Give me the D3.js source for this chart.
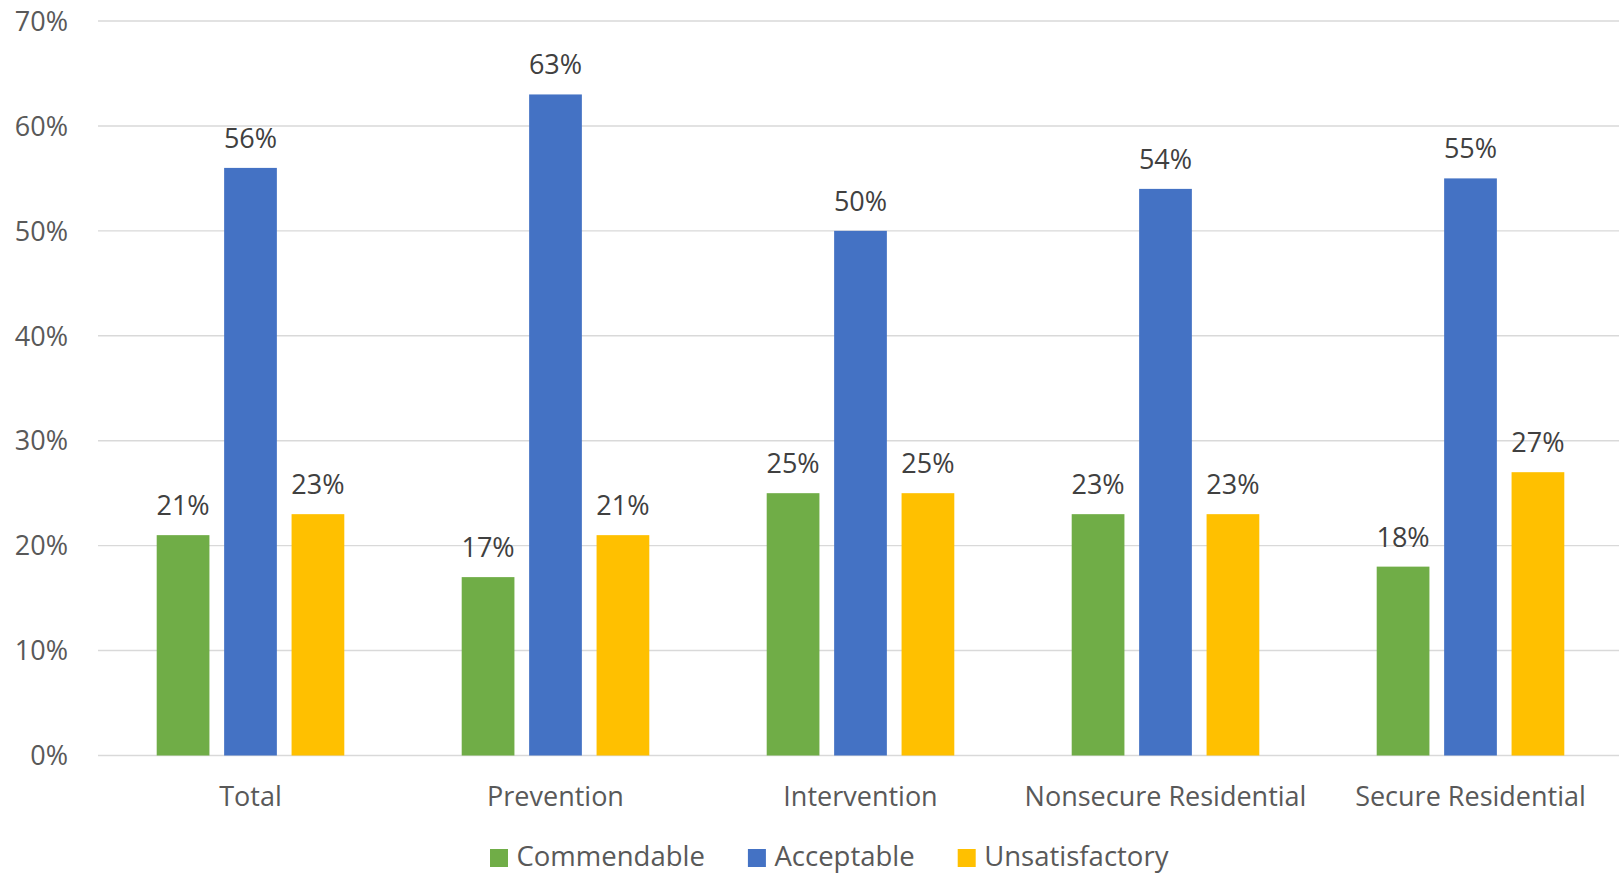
<!DOCTYPE html>
<html>
<head>
<meta charset="utf-8">
<script src="https://cdn.jsdelivr.net/npm/d3@7"></script>
<style>
  body { margin: 0; background: #fff; }
  text { font-family: "Open Sans", sans-serif; }
</style>
</head>
<body>
<script>
// chart values
const categories = ["Total", "Prevention", "Intervention", "Nonsecure Residential", "Secure Residential"];
const seriesNames = ["Commendable", "Acceptable", "Unsatisfactory"];
const commendable = [21, 17, 25, 23, 18];
const acceptable = [56, 63, 50, 54, 55];
const unsatisfactory = [23, 21, 25, 23, 27];
const yTicks = [0, 10, 20, 30, 40, 50, 60, 70];

const colors = ["#70AD47", "#4472C4", "#FFC000"];
const seriesValues = [commendable, acceptable, unsatisfactory];

const width = 1619, height = 874;

const svg = d3.select("body").append("svg")
    .attr("width", width)
    .attr("height", height);

// Scales
const x0 = d3.scaleBand()
    .domain(categories)
    .range([98, 1623])
    .paddingInner(0)
    .paddingOuter(0);

const x1 = d3.scaleBand()
    .domain(seriesNames)
    .range([58.7, x0.bandwidth() - 58.7])
    .paddingInner(0.218)
    .paddingOuter(0);

const y = d3.scaleLinear()
    .domain([0, 70])
    .range([755.5, 21]);

// gridlines
svg.append("g")
    .selectAll("line")
    .data(yTicks)
    .enter().append("line")
    .attr("x1", 98)
    .attr("x2", width)
    .attr("y1", d => y(d))
    .attr("y2", d => y(d))
    .attr("stroke", "#D9D9D9")
    .attr("stroke-width", 1.4);

// y axis labels
svg.append("g")
    .selectAll("text")
    .data(yTicks)
    .enter().append("text")
    .attr("x", 68)
    .attr("y", d => y(d))
    .attr("dy", "0.36em")
    .attr("text-anchor", "end")
    .attr("fill", "#595959")
    .attr("font-size", "27px")
    .text(d => d + "%");

// bars + labels
const groups = svg.selectAll(".cat")
    .data(categories)
    .enter().append("g")
    .attr("class", "cat")
    .attr("transform", d => "translate(" + x0(d) + ",0)");

groups.selectAll("rect")
    .data((d, i) => seriesNames.map((s, j) => ({ s: s, v: seriesValues[j][i], c: colors[j] })))
    .enter().append("rect")
    .attr("x", d => x1(d.s))
    .attr("y", d => y(d.v))
    .attr("width", x1.bandwidth())
    .attr("height", d => y(0) - y(d.v))
    .attr("fill", d => d.c);

groups.selectAll(".lbl")
    .data((d, i) => seriesNames.map((s, j) => ({ s: s, v: seriesValues[j][i] })))
    .enter().append("text")
    .attr("class", "lbl")
    .attr("x", d => x1(d.s) + x1.bandwidth() / 2)
    .attr("y", d => y(d.v) - 20)
    .attr("text-anchor", "middle")
    .attr("fill", "#404040")
    .attr("font-size", "27px")
    .text(d => d.v + "%");

// category labels
svg.append("g")
    .selectAll("text")
    .data(categories)
    .enter().append("text")
    .attr("x", d => x0(d) + x0.bandwidth() / 2)
    .attr("y", 806)
    .attr("text-anchor", "middle")
    .attr("fill", "#595959")
    .attr("font-size", "27px")
    .text(d => d);

// legend
const legend = svg.append("g");
let lx = 490;
seriesNames.forEach((name, i) => {
    legend.append("rect")
        .attr("x", lx)
        .attr("y", 849)
        .attr("width", 18)
        .attr("height", 18)
        .attr("fill", colors[i]);
    const t = legend.append("text")
        .attr("x", lx + 26.5)
        .attr("y", 866)
        .attr("fill", "#595959")
        .attr("font-size", "27.5px")
        .text(name);
    lx += 26.5 + t.node().getComputedTextLength() + 43;
});
</script>
</body>
</html>
